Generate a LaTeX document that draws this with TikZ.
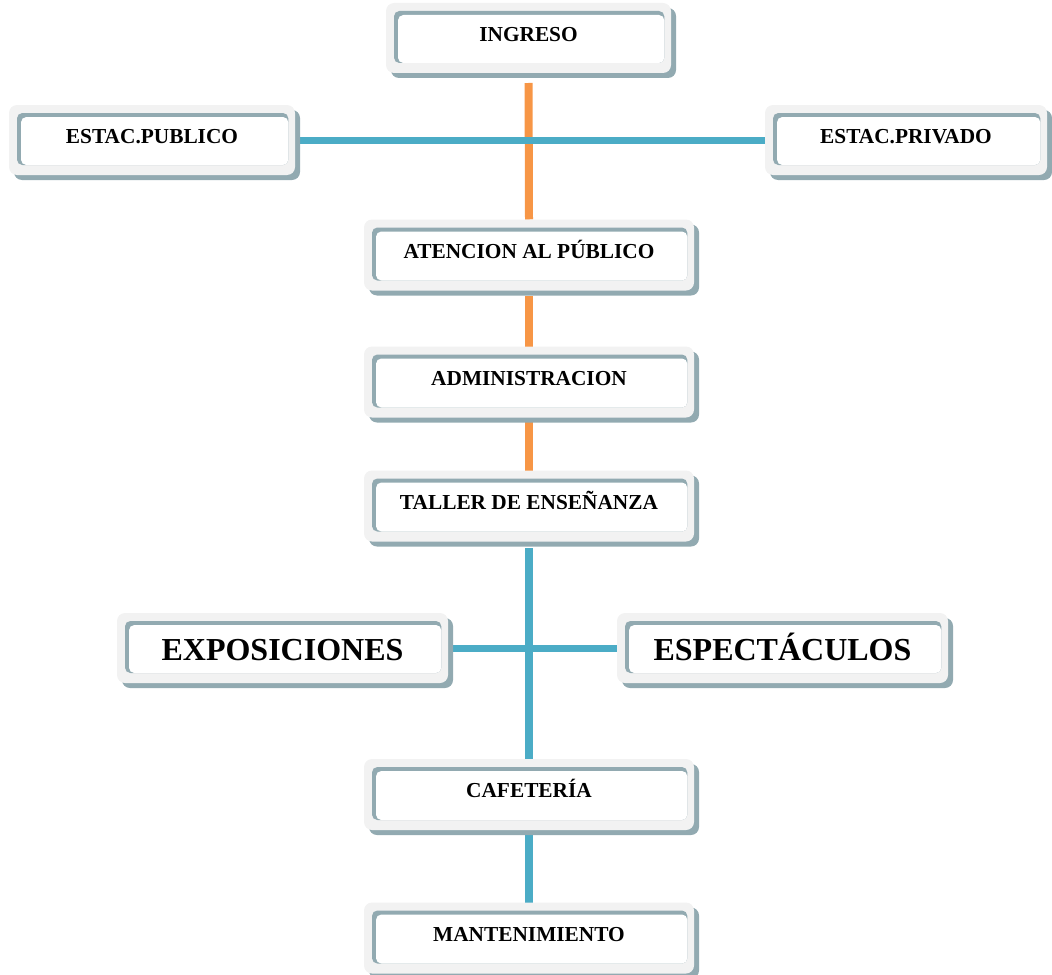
\documentclass[tikz,border=0pt]{standalone}
\usepackage{fontspec}
\setmainfont{Liberation Serif}
\usetikzlibrary{shadows,backgrounds}
\definecolor{marco}{HTML}{F2F2F2}
\definecolor{sombra}{HTML}{92AAB1}
\definecolor{naranja}{HTML}{F79646}
\definecolor{celeste}{HTML}{4BACC6}
\tikzset{
  caja/.style={fill=marco, rounded corners=6pt, outer sep=0pt, inner sep=0pt,
    minimum width=247.5pt, minimum height=53.25pt,
    drop shadow={shadow xshift=3.75pt, shadow yshift=-3.75pt, fill=sombra, opacity=1},
    path picture={
      \fill[sombra, rounded corners=4pt]
        ([shift={(6pt,-6pt)}]path picture bounding box.north west) rectangle
        ([shift={(-5pt,7.5pt)}]path picture bounding box.south east);
      \fill[white, rounded corners=4pt]
        ([shift={(9pt,-9pt)}]path picture bounding box.north west) rectangle
        ([shift={(-5pt,7.5pt)}]path picture bounding box.south east);
    },
    font=\fontsize{16}{19}\selectfont\bfseries, text height=10.8pt, text depth=6.2pt},
  cajachica/.style={caja, minimum width=213.75pt, minimum height=52.5pt},
  cajagrande/.style={caja, minimum width=248.25pt, minimum height=52.5pt,
    font=\fontsize{24}{28}\selectfont\bfseries, text height=18.9pt, text depth=0pt},
  ruta/.style={line width=6pt},
}
\begin{document}
\begin{tikzpicture}[x=0.75pt,y=-0.75pt]
  \useasboundingbox (0,0) rectangle (1052,974);
  % cajas
  \node[cajachica] (ingreso) at (528.5,38) {INGRESO};
  \node[cajachica, minimum width=214.5pt] (publico) at (152,140) {ESTAC.PUBLICO};
  \node[cajachica, minimum width=211.5pt] (privado) at (906,140) {ESTAC.PRIVADO};
  \node[caja] (atencion) at (529,255) {ATENCION AL PÚBLICO};
  \node[caja] (admin) at (529,382) {ADMINISTRACION};
  \node[caja] (taller) at (529,506) {TALLER DE ENSEÑANZA};
  \node[cajagrande] (exposiciones) at (282.5,648) {EXPOSICIONES};
  \node[cajagrande] (espectaculos) at (782.5,648) {ESPECTÁCULOS};
  \node[caja] (cafeteria) at (529,794.5) {CAFETERÍA};
  \node[caja] (mantenimiento) at (529,938) {MANTENIMIENTO};
  % conectores
  \begin{scope}[on background layer]
    \draw[ruta, naranja, shorten <=7.5pt] (ingreso.south) -- (atencion.north);
    \draw[ruta, naranja, shorten <=4pt] (atencion.south) -- (admin.north);
    \draw[ruta, naranja, shorten <=3.5pt] (admin.south) -- (taller.north);
    \draw[ruta, celeste, shorten <=5pt] (taller.south) -- (cafeteria.north);
    \draw[ruta, celeste, shorten <=4pt] (cafeteria.south) -- (mantenimiento.north);
    \draw[ruta, celeste, line width=5.25pt, shorten <=2pt] (publico.east) -- (privado.west);
    \draw[ruta, celeste, line width=5.25pt] (exposiciones.east) -- (espectaculos.west);
  \end{scope}
\end{tikzpicture}
\end{document}
